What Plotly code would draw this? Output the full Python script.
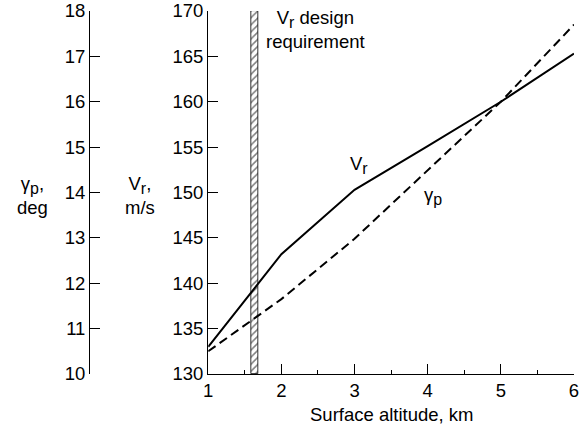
import plotly.graph_objects as go

# Data
altitude = [1, 2, 3, 4, 5, 6]
vr_values = [133.0, 143.2, 150.3, 155.1, 160.0, 165.3]
gamma_values = [10.5, 11.65, 12.98, 14.5, 16.0, 17.7]
req_alt = [1.633]
req_width = [0.1]
vr_range = [130, 170]
gamma_range = [10, 18]
x_ticks = [1, 2, 3, 4, 5, 6]
vr_ticks = [130, 135, 140, 145, 150, 155, 160, 165, 170]
gamma_ticks = [10, 11, 12, 13, 14, 15, 16, 17, 18]

FONT = "Liberation Sans, Arial, Helvetica, sans-serif"
FS = 18.5
W, H = 586, 427
ML, MR, MT, MB = 0, 12, 11, 53
PW = W - ML - MR
PH = H - MT - MB
def px(x):
    return (x - ML) / PW
def py(y):
    return (H - MB - y) / PH

SUB = lambda s: "<sub><span style='font-size:16px'>%s</span></sub>" % s

fig = go.Figure()

fig.add_trace(go.Bar(
    x=req_alt, y=[vr_range[1] - vr_range[0]], base=[vr_range[0]], width=req_width,
    marker=dict(color="white", line=dict(color="black", width=0.8),
                pattern=dict(shape="/", fgcolor="black", bgcolor="white", size=5, solidity=0.3)),
    yaxis="y", showlegend=False, hoverinfo="skip"))

fig.add_trace(go.Scatter(x=altitude, y=vr_values, mode="lines",
                         line=dict(color="black", width=2), yaxis="y", showlegend=False))
fig.add_trace(go.Scatter(x=altitude, y=gamma_values, mode="lines",
                         line=dict(color="black", width=2, dash="9px,5px"),
                         yaxis="y2", showlegend=False))

axis_common = dict(showline=True, linecolor="black", linewidth=1.3, ticks="inside",
                   ticklen=10, tickcolor="black", tickwidth=1.3, showgrid=False, zeroline=False,
                   tickfont=dict(family=FONT, size=FS, color="black"))

fig.update_layout(
    width=W, height=H,
    margin=dict(l=ML, r=MR, t=MT, b=MB),
    paper_bgcolor="white", plot_bgcolor="white",
    font=dict(family=FONT, size=FS, color="black"),
    bargap=0,
    xaxis=dict(domain=[px(205), 1], range=[1, 6], tickvals=x_ticks,
               minor=dict(ticks="inside", ticklen=4, dtick=0.5, tickcolor="black", tickwidth=1.3),
               **axis_common),
    yaxis=dict(range=vr_range, tickvals=vr_ticks, anchor="x", **axis_common),
    yaxis2=dict(range=gamma_range, tickvals=gamma_ticks, overlaying="y", anchor="free",
                position=px(85), side="left", **axis_common),
)

def ann(text, x, y, xanchor="center", yanchor="middle"):
    fig.add_annotation(text=text, x=px(x), y=py(y), xref="paper", yref="paper",
                       showarrow=False, xanchor=xanchor, yanchor=yanchor,
                       font=dict(family=FONT, size=FS, color="black"))

ann("γ" + SUB("p") + ",<br>deg", 28, 196)
ann("V" + SUB("r") + ",<br>m/s", 136, 196)
ann("V" + SUB("r") + " design<br>requirement", 313, 30)
ann("V" + SUB("r"), 357, 165)
ann("γ" + SUB("p"), 432, 196)
ann("Surface altitude, km", 390, 414)

fig.write_html("out.html")
